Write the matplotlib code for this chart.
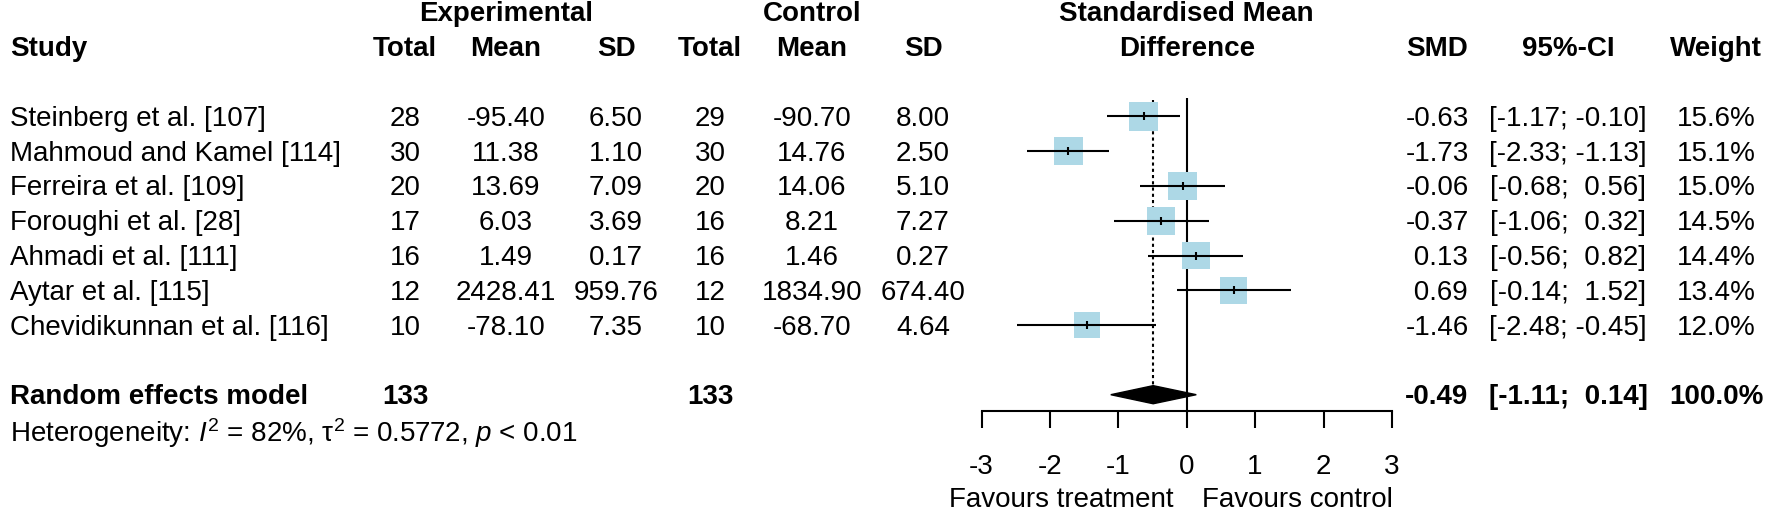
"""
Forest plot (meta-analysis of standardised mean differences)
"""

import matplotlib
matplotlib.use("Agg")
import matplotlib.pyplot as plt
from matplotlib.patches import Polygon
from matplotlib.transforms import blended_transform_factory
import numpy as np

plt.rcParams['font.family'] = ['Liberation Sans', 'DejaVu Sans']
plt.rcParams['axes.unicode_minus'] = False
plt.rcParams['mathtext.fontset'] = 'custom'
plt.rcParams['mathtext.rm'] = 'Liberation Sans'
plt.rcParams['mathtext.it'] = 'Liberation Sans:italic'
plt.rcParams['mathtext.bf'] = 'Liberation Sans:bold'

# data
studies = ["Steinberg et al. [107]", "Mahmoud and Kamel [114]", "Ferreira et al. [109]",
           "Foroughi et al. [28]", "Ahmadi et al. [111]", "Aytar et al. [115]",
           "Chevidikunnan et al. [116]"]
exp_n = [28, 30, 20, 17, 16, 12, 10]
exp_mean = [-95.40, 11.38, 13.69, 6.03, 1.49, 2428.41, -78.10]
exp_sd = [6.50, 1.10, 7.09, 3.69, 0.17, 959.76, 7.35]
ctl_n = [29, 30, 20, 16, 16, 12, 10]
ctl_mean = [-90.70, 14.76, 14.06, 8.21, 1.46, 1834.90, -68.70]
ctl_sd = [8.00, 2.50, 5.10, 7.27, 0.27, 674.40, 4.64]
smd = [-0.63, -1.73, -0.06, -0.37, 0.13, 0.69, -1.46]
ci_lo = [-1.17, -2.33, -0.68, -1.06, -0.56, -0.14, -2.48]
ci_hi = [-0.10, -1.13, 0.56, 0.32, 0.82, 1.52, -0.45]
weight = [15.6, 15.1, 15.0, 14.5, 14.4, 13.4, 12.0]

pooled = -0.49
pooled_lo = -1.11
pooled_hi = 0.14
total_exp = 133
total_ctl = 133
x_ticks = [-3, -2, -1, 0, 1, 2, 3]

# layout (pixels of the 1770x512 picture)
W, H = 1770, 512
x_zero = 1186.7
ppu = 68.4          # pixels per SMD unit
row0 = 116.3        # centre of first study row
rh = 34.8           # row height
axis_px = 411       # y of the x axis line
fs = 20
base = 0.275        # baseline offset (rows) so text sits centred on the row

fig = plt.figure(figsize=(W / 100, H / 100), dpi=100)
ax = fig.add_axes([(x_zero - 3 * ppu) / W, (H - axis_px) / H, 6 * ppu / W, axis_px / H])
ax.set_xlim(-3, 3)
ax.set_ylim((axis_px - row0) / rh, -row0 / rh)
for s in ['top', 'left', 'right']:
    ax.spines[s].set_visible(False)
ax.spines['bottom'].set_linewidth(1.5)
ax.set_yticks([])
ax.set_xticks(x_ticks)
ax.tick_params(axis='x', direction='out', length=12.2, width=1.5, pad=18.5, labelsize=fs)
ax.patch.set_alpha(0)

tr = blended_transform_factory(fig.transFigure, ax.transData)


def put(xpx, k, s, ha='center', bold=False):
    ax.text(xpx / W, k + base, s, transform=tr, ha=ha, va='baseline', fontsize=fs,
            fontweight='bold' if bold else 'normal', clip_on=False)


# column x positions
col_study = 10
col_en, col_em, col_esd = 405, 506, 616
col_cn, col_cm, col_csd = 710, 812, 923
col_smd, col_ci, col_w = 1437, 1568, 1716

# header
put(col_em, -3, "Experimental", bold=True)
put(col_cm, -3, "Control", bold=True)
put(x_zero, -3, "Standardised Mean", bold=True)
put(col_study, -2, "Study", ha='left', bold=True)
for xp, lab in [(col_en, "Total"), (col_em, "Mean"), (col_esd, "SD"),
                (col_cn, "Total"), (col_cm, "Mean"), (col_csd, "SD"),
                (x_zero, "Difference"), (col_smd, "SMD"), (col_ci, "95%-CI"),
                (col_w, "Weight")]:
    put(xp, -2, lab, bold=True)

# study rows
for i in range(len(studies)):
    put(col_study, i, studies[i], ha='left')
    put(col_en, i, f"{exp_n[i]}")
    put(col_em, i, f"{exp_mean[i]:.2f}")
    put(col_esd, i, f"{exp_sd[i]:.2f}")
    put(col_cn, i, f"{ctl_n[i]}")
    put(col_cm, i, f"{ctl_mean[i]:.2f}")
    put(col_csd, i, f"{ctl_sd[i]:.2f}")
    put(col_smd, i, f"{smd[i]:5.2f}")
    put(col_ci, i, f"[{ci_lo[i]:5.2f}; {ci_hi[i]:5.2f}]")
    put(col_w, i, f"{weight[i]:.1f}%")

k_re = len(studies) + 1
put(col_study, k_re, "Random effects model", ha='left', bold=True)
put(col_en, k_re, f"{total_exp}", bold=True)
put(col_cn, k_re, f"{total_ctl}", bold=True)
put(col_smd, k_re, f"{pooled:5.2f}", bold=True)
put(col_ci, k_re, f"[{pooled_lo:5.2f}; {pooled_hi:5.2f}]", bold=True)
put(col_w, k_re, f"{sum(weight):.1f}%", bold=True)
put(col_study, k_re + 1.07,
    r"Heterogeneity: $\mathit{I}^{2}$ = 82%, τ$^{2}$ = 0.5772, $\mathit{p}$ < 0.01", ha='left')

# forest marks
rows = np.arange(len(studies))
dh = 0.26
ax.vlines(0, -0.53, (axis_px - row0) / rh, color='black', lw=1.5, clip_on=False)
ax.vlines(pooled, -0.47, k_re - dh, color='black', lw=1.5, linestyles=(0, (1.5, 1.5)),
          clip_on=False)
side = 20.9 * np.sqrt(np.array(weight) / weight[0])
ax.scatter(smd, rows, s=side ** 2, marker='s', color='lightblue', lw=0, zorder=2,
           clip_on=False)
ax.hlines(rows, ci_lo, ci_hi, color='black', lw=1.5, zorder=3, clip_on=False)
ax.plot(smd, rows, ls='none', marker='|', ms=6, mew=1.5, color='black', zorder=4,
        clip_on=False)
ax.add_patch(Polygon([(pooled_lo, k_re), (pooled, k_re - dh), (pooled_hi, k_re),
                      (pooled, k_re + dh)], closed=True, color='black', zorder=3,
                     clip_on=False))

# direction labels
k_fav = (497 - row0) / rh
ax.text(-0.2, k_fav + base, "Favours treatment", ha='right', va='baseline', fontsize=fs,
        clip_on=False)
ax.text(0.22, k_fav + base, "Favours control", ha='left', va='baseline', fontsize=fs,
        clip_on=False)

fig.savefig("out.png", dpi=100)
